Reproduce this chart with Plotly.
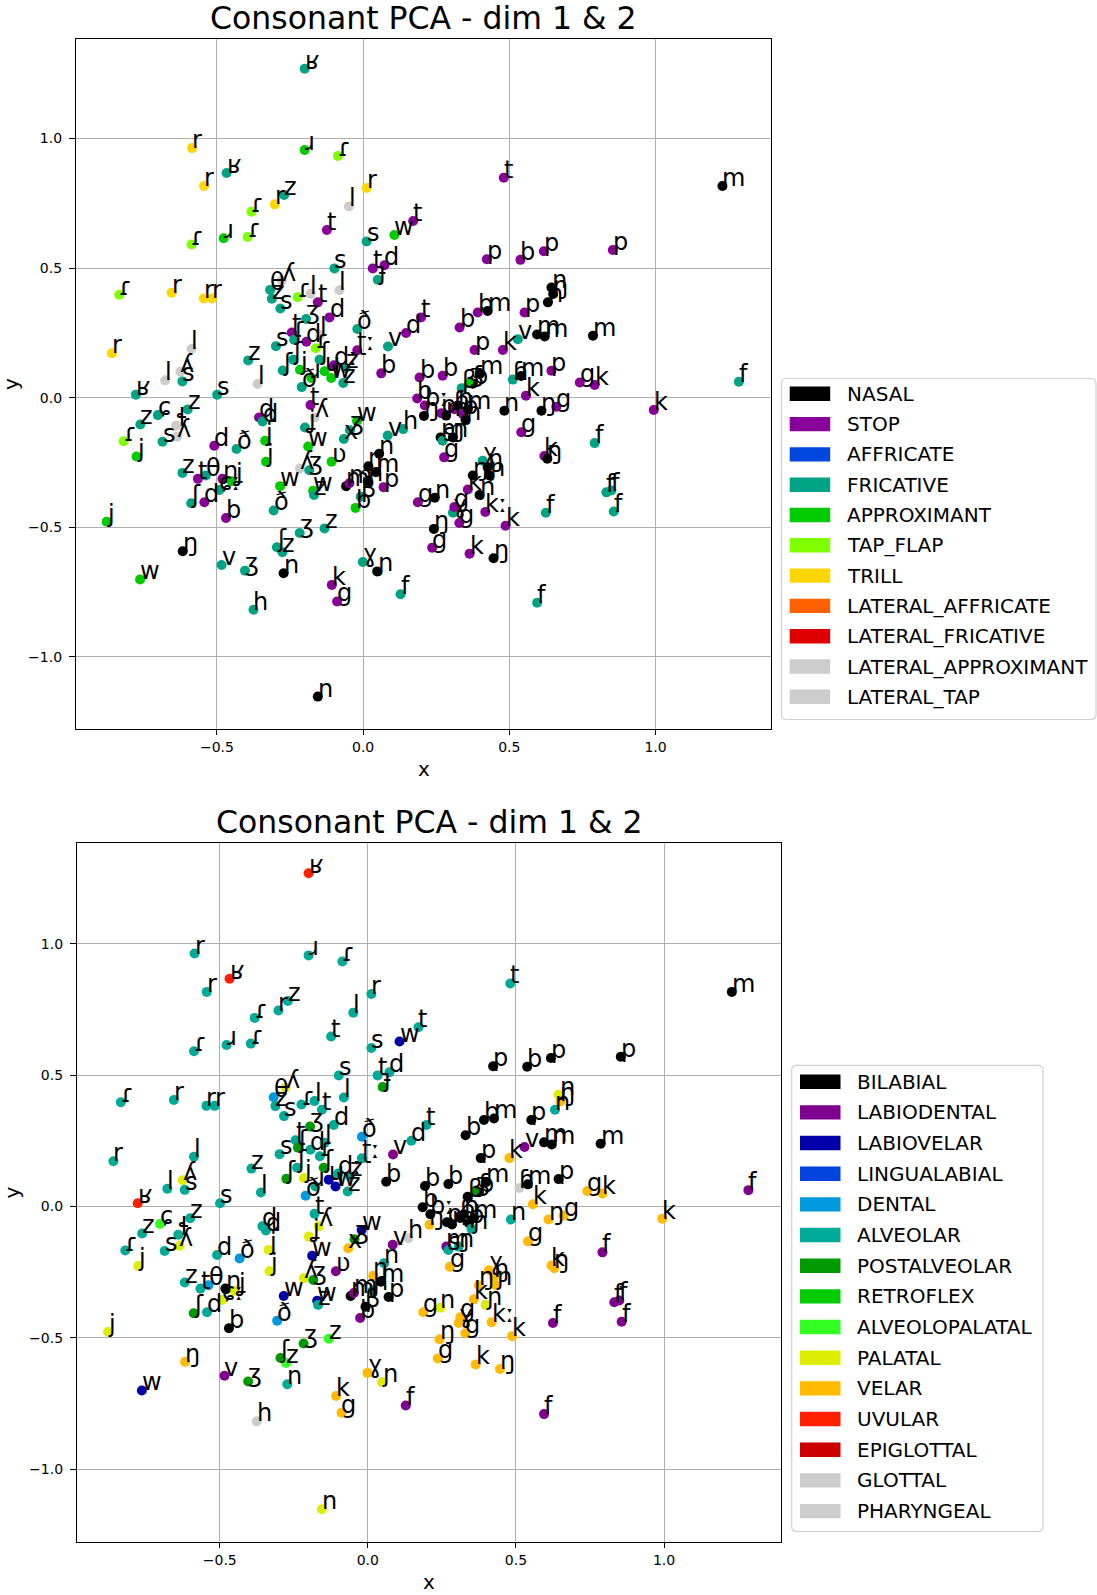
import plotly.graph_objects as go

W, H = 1097, 1595
OFF = 0  # body margin removed via post_script

MANNERS = ["NASAL", "STOP", "AFFRICATE", "FRICATIVE", "APPROXIMANT", "TAP_FLAP", "TRILL",
           "LATERAL_AFFRICATE", "LATERAL_FRICATIVE", "LATERAL_APPROXIMANT", "LATERAL_TAP"]
MANNER_COLORS = ["#000000", "#880099", "#0048dd", "#00a485", "#00cc00", "#80ff00", "#ffd700",
                 "#ff6000", "#dd0000", "#cccccc", "#cccccc"]
PLACES = ["BILABIAL", "LABIODENTAL", "LABIOVELAR", "LINGUALABIAL", "DENTAL", "ALVEOLAR",
          "POSTALVEOLAR", "RETROFLEX", "ALVEOLOPALATAL", "PALATAL", "VELAR", "UVULAR",
          "EPIGLOTTAL", "GLOTTAL", "PHARYNGEAL"]
PLACE_COLORS = ["#000000", "#7f008f", "#0000a8", "#0044dd", "#0099dd", "#00aa99", "#009900",
                "#00cc00", "#33ff22", "#ddee00", "#ffbb00", "#ff2000", "#cc0000", "#cccccc", "#cccccc"]

MANNER_CODE = {"N": "NASAL", "S": "STOP", "AF": "AFFRICATE", "F": "FRICATIVE", "AP": "APPROXIMANT",
               "T": "TAP_FLAP", "TR": "TRILL", "LA": "LATERAL_APPROXIMANT"}
PLACE_CODE = {"BI": "BILABIAL", "LD": "LABIODENTAL", "LV": "LABIOVELAR", "DE": "DENTAL", "AL": "ALVEOLAR",
              "PO": "POSTALVEOLAR", "AO": "ALVEOLOPALATAL", "PL": "PALATAL", "VE": "VELAR",
              "UV": "UVULAR", "GL": "GLOTTAL"}

LABELS = [
    "ʁ", "r", "ʁ", "r", "ɹ", "z", "r", "ɾ", "ɹ", "ɾ",
    "ɾ", "ɾ", "r", "l", "t", "s", "w", "t", "t", "p",
    "b", "m", "p", "p", "s", "t", "d", "ɟ", "ɾ", "r",
    "r", "r", "r", "l", "ʎ", "s", "l", "ʁ", "s", "z",
    "l", "ɕ", "z", "ɾ", "j", "z", "ɬ", "ʎ", "s", "d",
    "ð", "ɖ", "d", "j", "j", "z", "t", "θ", "ɲ", "ʝ",
    "ʃ", "d", "ɕː", "b", "ð", "j", "ŋ", "w", "v", "ʒ",
    "ʃ", "z", "ʒ", "z", "n", "h", "b", "ɣ", "ɲ", "k",
    "g", "f", "n", "ŋ", "g", "k", "ŋ", "k", "kː", "ɣ",
    "g", "g", "g", "n", "f", "f", "f", "f", "f", "f",
    "k", "f", "g", "k", "p", "m", "m", "m", "ɲ", "ŋ",
    "n", "g", "ŋ", "k", "ŋ", "k", "n", "g", "p", "v",
    "ɦ", "m", "k", "p", "b", "b", "m", "t", "d", "v",
    "ʈː", "ð", "d", "t", "l", "b", "b", "b", "β", "ɓ",
    "m", "ʒ", "b", "bː", "ŋ", "p", "m", "ɓ", "n", "p",
    "ɲ", "m", "ɱ", "n", "s", "g", "v", "h", "x", "w",
    "ʒ", "ʋ", "ŋ", "n", "m", "p", "m", "n", "ɱ", "β",
    "ɣ", "ŋ", "ŋ", "ɲ", "k", "ɲ", "θ", "ʎ", "z", "s",
    "ɾ", "l", "ʒ", "ʈ", "ʃ", "s", "d", "ɾ", "l", "ʃ",
    "ʃ", "j", "ʃ", "ɹ", "ð", "ɥ", "w", "t", "ʎ", "ʝ",
    "w", "w", "ʎ", "ʒ", "w", "z", "z", "dː", "z",
]
X = [
    -0.200, -0.585, -0.467, -0.544, -0.200, -0.270, -0.302, -0.382, -0.477, -0.395,
    -0.587, -0.086, 0.012, -0.049, -0.124, 0.012, 0.107, 0.171, 0.481, 0.423,
    0.538, 1.229, 0.618, 0.854, -0.098, 0.033, 0.073, 0.050, -0.834, -0.655,
    -0.545, -0.517, -0.859, -0.587, -0.625, -0.618, -0.677, -0.777, -0.499, -0.393,
    -0.361, -0.702, -0.762, -0.819, -0.775, -0.600, -0.640, -0.636, -0.686, -0.509,
    -0.433, -0.356, -0.344, -0.335, -0.332, -0.618, -0.565, -0.538, -0.481, -0.450,
    -0.588, -0.543, -0.492, -0.469, -0.306, -0.877, -0.617, -0.763, -0.484, -0.404,
    -0.295, -0.276, -0.217, -0.132, -0.272, -0.375, -0.026, -0.001, 0.048, -0.107,
    -0.089, 0.128, -0.155, 0.242, 0.236, 0.364, 0.446, 0.487, 0.418, 0.307,
    0.329, 0.312, 0.187, 0.245, 0.595, 0.625, 0.857, 0.832, 0.849, 0.792,
    0.994, 1.285, 0.741, 0.792, 0.644, 0.786, 0.621, 0.595, 0.644, 0.650,
    0.632, 0.661, 0.610, 0.620, 0.630, 0.557, 0.483, 0.541, 0.552, 0.529,
    0.512, 0.540, 0.478, 0.381, 0.330, 0.392, 0.426, 0.198, 0.147, 0.085,
    -0.020, -0.020, -0.115, -0.155, -0.081, 0.062, 0.193, 0.272, 0.337, 0.375,
    0.400, 0.364, 0.185, 0.211, 0.208, 0.267, 0.284, 0.312, 0.324, 0.341,
    0.350, 0.358, 0.265, 0.307, 0.272, 0.277, 0.084, 0.137, -0.066, -0.021,
    -0.045, -0.108, 0.018, 0.055, 0.044, 0.070, -0.058, 0.016, -0.047, -0.008,
    0.409, 0.375, 0.426, 0.432, 0.358, 0.398, -0.318, -0.278, -0.312, -0.283,
    -0.224, -0.180, -0.195, -0.244, -0.236, -0.298, -0.194, -0.162, -0.146, -0.275,
    -0.239, -0.216, -0.149, -0.177, -0.210, -0.132, -0.109, -0.180, -0.166, -0.199,
    -0.188, -0.284, -0.216, -0.184, -0.171, -0.168, -0.068, -0.100, -0.060,
]
Y = [
    1.269, 0.963, 0.867, 0.817, 0.956, 0.782, 0.746, 0.718, 0.615, 0.620,
    0.591, 0.933, 0.809, 0.738, 0.647, 0.603, 0.628, 0.682, 0.849, 0.534,
    0.532, 0.817, 0.565, 0.570, 0.499, 0.499, 0.511, 0.455, 0.397, 0.405,
    0.383, 0.383, 0.172, 0.189, 0.100, 0.063, 0.067, 0.012, 0.012, 0.144,
    0.053, -0.067, -0.103, -0.168, -0.227, -0.045, -0.108, -0.150, -0.170, -0.185,
    -0.198, -0.076, -0.092, -0.166, -0.247, -0.290, -0.313, -0.300, -0.313, -0.322,
    -0.407, -0.403, -0.356, -0.464, -0.435, -0.478, -0.592, -0.701, -0.645, -0.667,
    -0.577, -0.596, -0.522, -0.504, -0.677, -0.818, -0.425, -0.634, -0.670, -0.722,
    -0.786, -0.758, -1.153, -0.506, -0.579, -0.602, -0.619, -0.494, -0.441, -0.444,
    -0.483, -0.422, -0.403, -0.386, -0.791, -0.444, -0.439, -0.365, -0.358, -0.175,
    -0.047, 0.062, 0.059, 0.049, 0.104, 0.239, 0.236, 0.244, 0.425, 0.400,
    0.368, -0.035, -0.050, -0.225, -0.235, 0.008, -0.050, -0.133, 0.329, 0.226,
    0.070, 0.084, 0.184, 0.184, 0.271, 0.329, 0.335, 0.310, 0.250, 0.198,
    0.183, 0.265, 0.310, 0.368, 0.415, 0.094, 0.078, 0.085, 0.037, 0.054,
    0.093, 0.060, -0.003, -0.030, -0.070, -0.060, -0.069, -0.044, -0.030, -0.063,
    -0.085, -0.044, -0.153, -0.153, -0.166, -0.230, -0.146, -0.121, -0.159, -0.090,
    -0.125, -0.247, -0.264, -0.216, -0.287, -0.345, -0.341, -0.320, -0.330, -0.382,
    -0.243, -0.300, -0.268, -0.300, -0.354, -0.375, 0.416, 0.452, 0.382, 0.344,
    0.388, 0.401, 0.304, 0.252, 0.224, 0.199, 0.216, 0.191, 0.242, 0.105,
    0.147, 0.108, 0.147, 0.076, 0.041, 0.102, 0.076, -0.028, -0.076, -0.115,
    -0.188, -0.341, -0.273, -0.280, -0.359, -0.375, 0.057, 0.125, 0.115,
]
MANNER = [
    "F", "TR", "F", "TR", "AP", "F", "TR", "T", "AP", "T",
    "T", "T", "TR", "LA", "S", "F", "AP", "S", "S", "S",
    "S", "N", "S", "S", "F", "S", "S", "F", "T", "TR",
    "TR", "TR", "TR", "LA", "LA", "F", "LA", "F", "F", "F",
    "LA", "F", "F", "T", "AP", "F", "LA", "LA", "F", "S",
    "F", "S", "F", "AP", "AP", "F", "S", "F", "S", "AP",
    "F", "S", "F", "S", "F", "AP", "N", "AP", "F", "F",
    "F", "F", "F", "F", "N", "F", "AP", "F", "N", "S",
    "S", "F", "N", "N", "S", "S", "N", "S", "S", "F",
    "S", "S", "S", "N", "F", "F", "F", "F", "F", "F",
    "S", "F", "S", "S", "S", "N", "N", "N", "N", "N",
    "N", "S", "N", "S", "N", "S", "N", "S", "S", "F",
    "F", "N", "S", "S", "S", "S", "N", "S", "S", "F",
    "S", "F", "S", "S", "LA", "S", "S", "S", "F", "N",
    "N", "AP", "S", "S", "N", "S", "N", "S", "N", "S",
    "N", "N", "N", "N", "F", "S", "F", "F", "F", "AP",
    "F", "AP", "N", "N", "N", "S", "N", "N", "S", "F",
    "F", "N", "N", "N", "S", "N", "F", "LA", "F", "F",
    "T", "LA", "F", "S", "F", "F", "S", "T", "LA", "F",
    "F", "AP", "F", "AP", "F", "AP", "AP", "S", "LA", "F",
    "AP", "AP", "LA", "F", "AP", "F", "F", "S", "F",
]
PLACE = [
    "UV", "AL", "UV", "AL", "AL", "AL", "AL", "AL", "AL", "AL",
    "AL", "AL", "AL", "AL", "AL", "AL", "LV", "AL", "AL", "BI",
    "BI", "BI", "BI", "BI", "AL", "AL", "AL", "PO", "AL", "AL",
    "AL", "AL", "AL", "AL", "PL", "AL", "AL", "UV", "AL", "AL",
    "AL", "AO", "AL", "AL", "PL", "AL", "AL", "PL", "AL", "AL",
    "DE", "AL", "AL", "PL", "PL", "AL", "AL", "DE", "BI", "PL",
    "PO", "AL", "PL", "BI", "DE", "PL", "VE", "LV", "LD", "PO",
    "PO", "AO", "PO", "AO", "AL", "GL", "LD", "VE", "PL", "VE",
    "VE", "LD", "PL", "VE", "VE", "VE", "VE", "VE", "VE", "VE",
    "VE", "VE", "VE", "PL", "LD", "LD", "LD", "LD", "LD", "LD",
    "VE", "LD", "VE", "VE", "BI", "BI", "BI", "BI", "PL", "VE",
    "AL", "VE", "VE", "VE", "VE", "VE", "AL", "VE", "BI", "LD",
    "GL", "BI", "VE", "BI", "BI", "BI", "BI", "AL", "AL", "LD",
    "AL", "DE", "AL", "AL", "AL", "BI", "BI", "BI", "BI", "BI",
    "BI", "PO", "BI", "BI", "VE", "BI", "BI", "BI", "BI", "BI",
    "AL", "BI", "LD", "AL", "AL", "VE", "LD", "GL", "VE", "LV",
    "PO", "LD", "VE", "AL", "BI", "BI", "BI", "AL", "LD", "BI",
    "VE", "VE", "VE", "VE", "VE", "PL", "DE", "PL", "AL", "AL",
    "AL", "AL", "PO", "AL", "PO", "AL", "AL", "AL", "AL", "PO",
    "AL", "PL", "PO", "AL", "DE", "LV", "LV", "AL", "PL", "PL",
    "LV", "LV", "PL", "PO", "LV", "AL", "AL", "AL", "AL",
]

TITLE = "Consonant PCA - dim 1 & 2"
X_TICKS = [-0.5, 0.0, 0.5, 1.0]
X_TICKTEXT = ["−0.5", "0.0", "0.5", "1.0"]
Y_TICKS = [-1.0, -0.5, 0.0, 0.5, 1.0]
Y_TICKTEXT = ["−1.0", "−0.5", "0.0", "0.5", "1.0"]

# ---------------- layout helpers (page pixel -> paper) ----------------
def px(x):
    return (x - OFF) / W

def py(y):
    return 1 - (y - OFF) / H

FONT = "DejaVu Sans"
LABEL_SIZE = 24
top_box = (76, 39, 771, 729)
bot_box = (77, 843, 781, 1542)
XR = [-0.982, 1.395]
YR = [-1.278, 1.384]

manner_color = {m: c for m, c in zip(MANNERS, MANNER_COLORS)}
place_color = {p: c for p, c in zip(PLACES, PLACE_COLORS)}
top_colors = [manner_color[MANNER_CODE[m]] for m in MANNER]
bot_colors = [place_color[PLACE_CODE[p]] for p in PLACE]

fig = go.Figure()
fig.add_trace(go.Scatter(x=X, y=Y, mode="markers", xaxis="x", yaxis="y",
                         marker=dict(size=10, color=top_colors, line=dict(width=0)),
                         showlegend=False, hoverinfo="skip"))
fig.add_trace(go.Scatter(x=X, y=Y, mode="markers", xaxis="x2", yaxis="y2",
                         marker=dict(size=10, color=bot_colors, line=dict(width=0)),
                         showlegend=False, hoverinfo="skip"))

annotations = []
for xr, yr in (("x", "y"), ("x2", "y2")):
    for lab, xv, yv in zip(LABELS, X, Y):
        annotations.append(dict(x=xv, y=yv, xref=xr, yref=yr, text=lab, showarrow=False,
                                xanchor="left", yanchor="bottom", yshift=-6, xshift=0,
                                borderpad=0, borderwidth=0,
                                font=dict(family=FONT, size=LABEL_SIZE, color="black")))

def axis_common(box, ticks, ticktext, is_x):
    x0, y0, x1, y1 = box
    d = dict(
        range=XR if is_x else YR,
        domain=[px(x0), px(x1)] if is_x else [py(y1), py(y0)],
        tickvals=ticks, ticktext=ticktext,
        showline=True, mirror=True, linecolor="black", linewidth=1.2,
        ticks="outside", ticklen=5 if is_x else 6, tickwidth=1.2, tickcolor="black",
        ticklabelstandoff=0 if is_x else 4,
        tickfont=dict(family=FONT, size=14, color="black"),
        showgrid=True, gridcolor="#b0b0b0", gridwidth=1.1, zeroline=False,
    )
    return d

layout = dict(
    width=W, height=H, margin=dict(l=0, r=0, t=0, b=0),
    plot_bgcolor="white", paper_bgcolor="white", showlegend=False,
    xaxis=dict(axis_common(top_box, X_TICKS, X_TICKTEXT, True), anchor="y"),
    yaxis=dict(axis_common(top_box, Y_TICKS, Y_TICKTEXT, False), anchor="x"),
    xaxis2=dict(axis_common(bot_box, X_TICKS, X_TICKTEXT, True), anchor="y2"),
    yaxis2=dict(axis_common(bot_box, Y_TICKS, Y_TICKTEXT, False), anchor="x2"),
)

# titles and axis labels
for box in (top_box, bot_box):
    x0, y0, x1, y1 = box
    cx = (x0 + x1) / 2
    annotations.append(dict(x=px(cx), y=py(y0 - 3), xref="paper", yref="paper", text=TITLE,
                            showarrow=False, xanchor="center", yanchor="bottom",
                            borderpad=0, borderwidth=0,
                            font=dict(family=FONT, size=31.5, color="black")))
    annotations.append(dict(x=px(cx), y=py(y1 + 52), xref="paper", yref="paper", text="x",
                            showarrow=False, xanchor="center", yanchor="bottom",
                            borderpad=0, borderwidth=0,
                            font=dict(family=FONT, size=20, color="black")))
    annotations.append(dict(x=px(11), y=py((y0 + y1) / 2), xref="paper", yref="paper", text="y",
                            showarrow=False, xanchor="center", yanchor="middle", textangle=-90,
                            borderpad=0, borderwidth=0,
                            font=dict(family=FONT, size=20, color="black")))

shapes = []

def rounded_box(x0, y0, x1, y1, r=5):
    ax0, ax1 = px(x0), px(x1)
    ay0, ay1 = py(y0), py(y1)
    rx, ry = r / W, r / H
    path = (f"M {ax0+rx},{ay0} L {ax1-rx},{ay0} Q {ax1},{ay0} {ax1},{ay0-ry} "
            f"L {ax1},{ay1+ry} Q {ax1},{ay1} {ax1-rx},{ay1} "
            f"L {ax0+rx},{ay1} Q {ax0},{ay1} {ax0},{ay1+ry} "
            f"L {ax0},{ay0-ry} Q {ax0},{ay0} {ax0+rx},{ay0} Z")
    return dict(type="path", path=path, xref="paper", yref="paper",
                line=dict(color="#d0d0d0", width=1.2), fillcolor="rgba(255,255,255,0.8)", layer="above")

def legend(box, names, colors, y_first, step, patch_x, text_x):
    shapes.append(rounded_box(*box))
    for i, (n, c) in enumerate(zip(names, colors)):
        yc = y_first + step * i
        shapes.append(dict(type="rect", xref="paper", yref="paper",
                           x0=px(patch_x), x1=px(patch_x + 40.5), y0=py(yc - 7.2), y1=py(yc + 7.2),
                           fillcolor=c, line=dict(width=0), layer="above"))
        annotations.append(dict(x=px(text_x), y=py(yc), xref="paper", yref="paper", text=n,
                                showarrow=False, xanchor="left", yanchor="middle",
                                borderpad=0, borderwidth=0,
                                font=dict(family=FONT, size=20, color="black")))

legend((781.5, 378.5, 1096, 719.5), MANNERS, MANNER_COLORS, 393.8, 30.3, 789.7, 846.7)
legend((791.7, 1065.4, 1043, 1531.5), PLACES, PLACE_COLORS, 1081.7, 30.67, 800.0, 856.8)

layout["annotations"] = annotations
layout["shapes"] = shapes
fig.update_layout(**layout)
fig.write_html("out.html", config={"displayModeBar": False},
               post_script="document.body.style.margin='0';document.body.style.overflow='hidden';")
